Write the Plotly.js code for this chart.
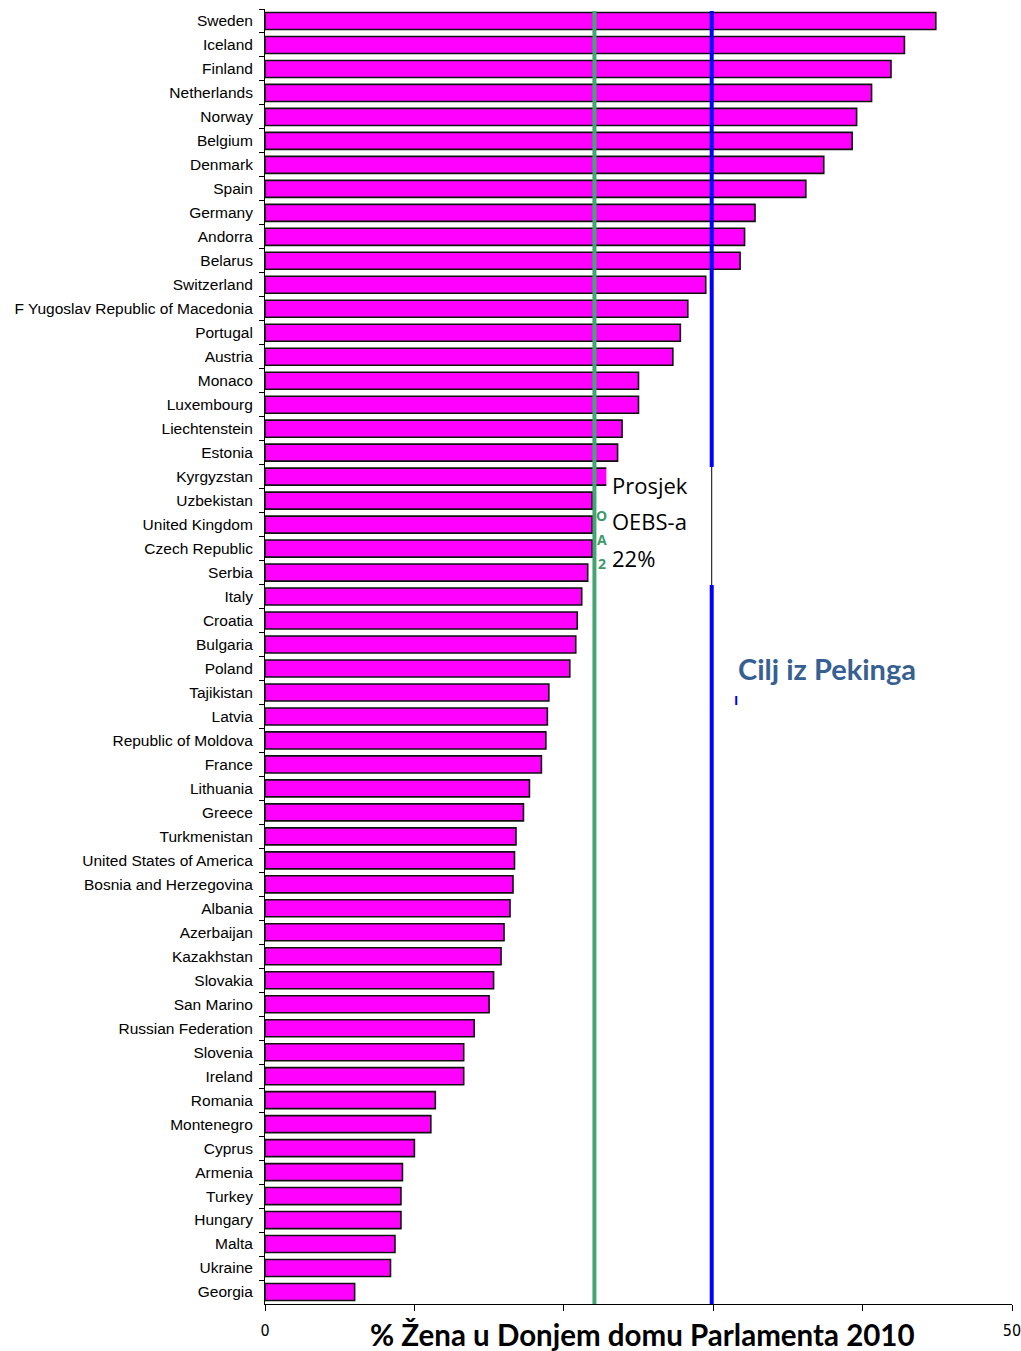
<!DOCTYPE html>
<html>
<head>
<meta charset="utf-8">
<script src="https://cdn.plot.ly/plotly-3.0.1.min.js"></script>
<style>html,body{margin:0;padding:0;background:#fff;}#chart{width:1021px;height:1351px;}</style>
</head>
<body>
<div id="chart"></div>
<script>
const countries = ["Sweden","Iceland","Finland","Netherlands","Norway","Belgium","Denmark","Spain","Germany","Andorra","Belarus","Switzerland","F Yugoslav Republic of Macedonia","Portugal","Austria","Monaco","Luxembourg","Liechtenstein","Estonia","Kyrgyzstan","Uzbekistan","United Kingdom","Czech Republic","Serbia","Italy","Croatia","Bulgaria","Poland","Tajikistan","Latvia","Republic of Moldova","France","Lithuania","Greece","Turkmenistan","United States of America","Bosnia and Herzegovina","Albania","Azerbaijan","Kazakhstan","Slovakia","San Marino","Russian Federation","Slovenia","Ireland","Romania","Montenegro","Cyprus","Armenia","Turkey","Hungary","Malta","Ukraine","Georgia"];
const womenPct = [44.9,42.8,41.9,40.6,39.6,39.3,37.4,36.2,32.8,32.1,31.8,29.5,28.3,27.8,27.3,25.0,25.0,23.9,23.6,23.0,21.9,21.9,21.9,21.6,21.2,20.9,20.8,20.4,19.0,18.9,18.8,18.5,17.7,17.3,16.8,16.7,16.6,16.4,16.0,15.8,15.3,15.0,14.0,13.3,13.3,11.4,11.1,10.0,9.2,9.1,9.1,8.7,8.4,6.0];
const xTickVals = [0,10,20,30,40,50];
const xTickText = ["0","","","","","50"];
const oebsAverage = 22.05;
const beijingTarget = 29.9;
const avgLabelLines = ["Prosjek","OEBS-a","22%"];
const hiddenLabelChars = ["O","A","2"];
const targetLabel = "Cilj iz Pekinga";
const xTitle = "% Žena u Donjem domu Parlamenta 2010";

const trace = {
  type: "bar",
  orientation: "h",
  y: countries,
  x: womenPct,
  marker: {color: "#ff00ff", line: {color: "#111111", width: 1.6}},
  hoverinfo: "x+y"
};

const avgY = [0.6324, 0.6046, 0.5761];
const annotations = [];
avgLabelLines.forEach((t, i) => annotations.push({
  text: t, x: 23.1, y: avgY[i], xref: "x", yref: "paper",
  xanchor: "left", yanchor: "middle", showarrow: false,
  font: {family: "Open Sans, sans-serif", size: 22, color: "#000"}
}));
const hidY = [0.6085, 0.5900, 0.5715];
hiddenLabelChars.forEach((t, i) => annotations.push({
  text: "<b>" + t + "</b>", x: 22.55, y: hidY[i], xref: "x", yref: "paper",
  xanchor: "center", yanchor: "middle", showarrow: false,
  font: {family: "Open Sans, sans-serif", size: 14, color: "#3c9a6a"}
}));
annotations.push({
  text: "<b>" + targetLabel + "</b>", x: 31.55, y: 0.4911, xref: "x", yref: "paper",
  xanchor: "left", yanchor: "middle", showarrow: false,
  font: {family: "Lato, sans-serif", size: 29, color: "#376092"}
});
annotations.push({
  text: "<b>" + xTitle + "</b>", x: 0.506, y: 0, xref: "paper", yref: "paper",
  xanchor: "center", yanchor: "middle", yshift: -30, showarrow: false,
  font: {family: "Lato, sans-serif", size: 29.5, color: "#000"}
});
annotations.push({
  text: "<b>I</b>", x: 31.5, y: 0.4664, xref: "x", yref: "paper",
  xanchor: "center", yanchor: "middle", showarrow: false,
  font: {family: "Open Sans, sans-serif", size: 13, color: "#0000ff"}
});

const shapes = [
  {type: "line", xref: "x", yref: "paper", x0: oebsAverage, x1: oebsAverage, y0: 0, y1: 0.9985,
   line: {color: "#45a474", width: 4}},
  {type: "line", xref: "x", yref: "paper", x0: beijingTarget, x1: beijingTarget, y0: 0, y1: 0.9985,
   line: {color: "#0000ff", width: 4}},
  {type: "rect", xref: "x", yref: "paper", x0: 22.85, x1: 30.1, y0: 0.5552, y1: 0.6463,
   fillcolor: "#ffffff", line: {width: 0}},
  {type: "line", xref: "x", yref: "paper", x0: 29.9, x1: 29.9, y0: 0.5552, y1: 0.6463,
   line: {color: "#000000", width: 1}}
];

const layout = {
  width: 1021, height: 1351,
  margin: {l: 265, r: 9, t: 9, b: 47, pad: 0},
  paper_bgcolor: "#ffffff", plot_bgcolor: "#ffffff",
  showlegend: false,
  bargap: 0.29,
  font: {family: "Liberation Sans, Arial, sans-serif", color: "#000"},
  xaxis: {
    range: [0, 50], tickvals: xTickVals, ticktext: xTickText,
    ticks: "outside", ticklen: 6, tickcolor: "#000", tickwidth: 1,
    showline: true, linecolor: "#000", linewidth: 1,
    showgrid: false, zeroline: false, fixedrange: true,
    ticklabelstandoff: 6, ticklabeloverflow: "allow",
    tickfont: {family: "DejaVu Sans Condensed, DejaVu Sans, sans-serif", size: 16, color: "#000"}
  },
  yaxis: {
    type: "category", autorange: "reversed",
    ticks: "outside", tickson: "boundaries", ticklen: 5, tickcolor: "#000", tickwidth: 1,
    showline: true, linecolor: "#000", linewidth: 1,
    showgrid: false, zeroline: false, fixedrange: true,
    ticklabelstandoff: 8,
    tickfont: {family: "Liberation Sans, Arial, sans-serif", size: 15.5, color: "#000"}
  },
  shapes: shapes,
  annotations: annotations
};

Plotly.newPlot("chart", [trace], layout, {displayModeBar: false, staticPlot: true});
</script>
</body>
</html>
